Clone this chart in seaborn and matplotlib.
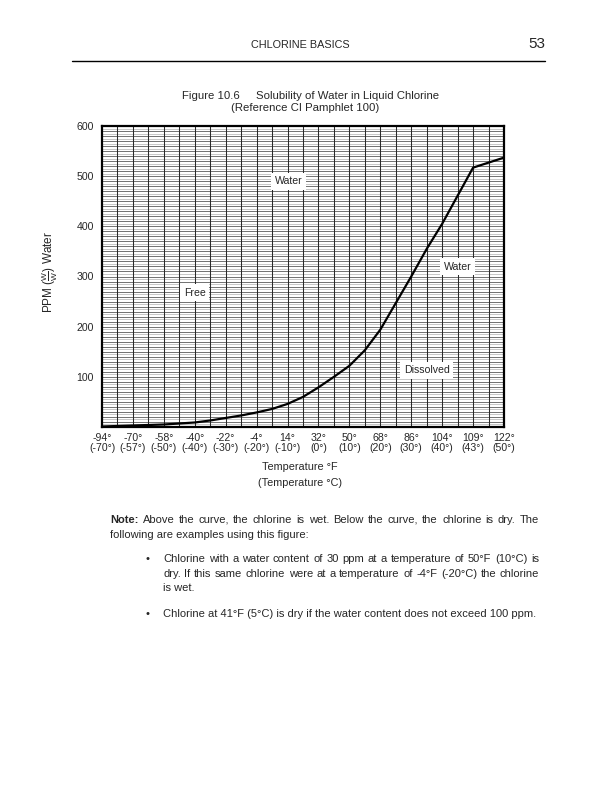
import numpy as np
import matplotlib
matplotlib.use("Agg")
import matplotlib.pyplot as plt
import seaborn as sns

# ---- data ----
tick_temp_f = [-94, -70, -58, -40, -22, -4, 14, 32, 50, 68, 86, 104, 109, 122]
tick_temp_c = [-70, -57, -50, -40, -30, -20, -10, 0, 10, 20, 30, 40, 43, 50]
curve_temp_f = [-94, -82, -70, -64, -58, -49, -40, -31, -22, -13, -4, 5, 14, 23,
                32, 41, 50, 59, 68, 77, 86, 95, 104, 106.5, 109, 122]
curve_ppm = [1, 2, 3, 4, 5, 7, 9, 13, 18, 23, 29, 36, 46, 60,
             79, 100, 122, 153, 194, 247, 300, 355, 405, 461, 517, 537]
y_ticks = [100, 200, 300, 400, 500, 600]

region_labels = ["Water", "Free", "Water", "Dissolved"]
region_temp_f = [14.5, -40, 106.5, 95]
region_ppm = [490, 268, 319, 113]

sns.set_style("white")
plt.rcParams["font.family"] = ["Liberation Sans", "DejaVu Sans"]
plt.rcParams["mathtext.fontset"] = "custom"
plt.rcParams["mathtext.rm"] = "Liberation Sans"
plt.rcParams["mathtext.it"] = "Liberation Sans"

fig = plt.figure(figsize=(6.12, 7.92), dpi=100)
W, H = 612, 792

def fx(px):
    return px / W

def fy(py):
    return 1 - py / H

ax = fig.add_axes([fx(102), fy(427), fx(504) - fx(102), fy(126) - fy(427)])

idx = np.arange(len(tick_temp_f))
pos = np.interp(curve_temp_f, tick_temp_f, idx)
xmax = len(tick_temp_f) - 1

# graph-paper grid
ax.set_xlim(0, xmax)
ax.set_ylim(0, 600)
ax.hlines(np.arange(5, 600, 10), 0, xmax, color="#b8b8b8", lw=0.55, zorder=1)
ax.hlines(np.arange(10, 600, 10), 0, xmax, color="#4a4a4a", lw=0.55, zorder=1)
ax.vlines(np.arange(0.5, xmax, 0.5), 0, 600, color="#2a2a2a", lw=0.75, zorder=1)

sns.lineplot(x=pos, y=curve_ppm, ax=ax, color="black", lw=1.6, zorder=3)

ax.set_xticks(idx)
ax.set_xticklabels([f"{f}°\n({c}°)" for f, c in zip(tick_temp_f, tick_temp_c)],
                   fontsize=7.6, linespacing=1.0)
ax.set_yticks(y_ticks)
ax.set_yticklabels([str(v) for v in y_ticks], fontsize=7.6)
ax.tick_params(axis="x", length=3, width=0.8, pad=1, color="black")
ax.tick_params(axis="y", length=0, pad=6)
for s in ax.spines.values():
    s.set_color("black")
    s.set_linewidth(1.6)
    s.set_visible(True)

for lab, tf, pp in zip(region_labels, region_temp_f, region_ppm):
    ax.text(np.interp(tf, tick_temp_f, idx), pp, lab, fontsize=7.6, ha="center", va="center",
            zorder=4, bbox=dict(facecolor="white", edgecolor="none", pad=2.5))

ax.set_xlabel("Temperature °F\n(Temperature °C)", fontsize=7.8, linespacing=1.8)
ax.xaxis.set_label_coords((300 - 102) / (504 - 102), -(475 - 427) / (427 - 126))
ax.xaxis.label.set_va("center")
ax.set_ylabel(r"PPM $(\frac{W}{W})$ Water", fontsize=8.5)
ax.yaxis.set_label_coords(-(102 - 60) / (504 - 102), (427 - 272) / (427 - 126))

# page header
fig.text(fx(300), fy(45), "CHLORINE BASICS", fontsize=7.8, ha="center", va="center")
fig.text(fx(537), fy(44), "53", fontsize=11, ha="center", va="center")
fig.add_artist(plt.Line2D([fx(72), fx(545)], [fy(61), fy(61)], color="black", lw=1.0))

fig.text(fx(182), fy(96), "Figure 10.6", fontsize=8.2, ha="left", va="center")
fig.text(fx(256), fy(96), "Solubility of Water in Liquid Chlorine", fontsize=8.2, ha="left", va="center")
fig.text(fx(305), fy(108), "(Reference CI Pamphlet 100)", fontsize=8.2, ha="center", va="center")

# note text (justified lines)
fig.canvas.draw()
renderer = fig.canvas.get_renderer()

def justified(words, x0, x1, y, fs=8, weights=None):
    arts = []
    for i, w in enumerate(words):
        wt = weights[i] if weights else "normal"
        arts.append(fig.text(0, fy(y), w, fontsize=fs, ha="left", va="center", fontweight=wt))
    widths = [a.get_window_extent(renderer).width for a in arts]
    gap = (x1 - x0 - sum(widths)) / (len(words) - 1)
    x = x0
    for a, wd in zip(arts, widths):
        a.set_x(fx(x))
        x += wd + gap

def plain(s, x0, y, fs=8):
    fig.text(fx(x0), fy(y), s, fontsize=fs, ha="left", va="center")

line1 = "Note: Above the curve, the chlorine is wet.  Below the curve, the chlorine is dry.  The".split()
wts = ["bold"] + ["normal"] * (len(line1) - 1)
justified(line1, 110, 539, 520, weights=wts)
plain("following are examples using this figure:", 110, 535)

fig.text(fx(147), fy(559), "•", fontsize=8, ha="center", va="center")
justified("Chlorine with a water content of 30 ppm at a temperature of 50°F (10°C) is".split(), 163, 539, 559)
justified("dry.  If this same chlorine were at a temperature of -4°F (-20°C) the chlorine".split(), 163, 539, 574)
plain("is wet.", 163, 588)
fig.text(fx(147), fy(614), "•", fontsize=8, ha="center", va="center")
plain("Chlorine at 41°F (5°C) is dry if the water content does not exceed 100 ppm.", 163, 614)

fig.savefig("out.png", dpi=100)
